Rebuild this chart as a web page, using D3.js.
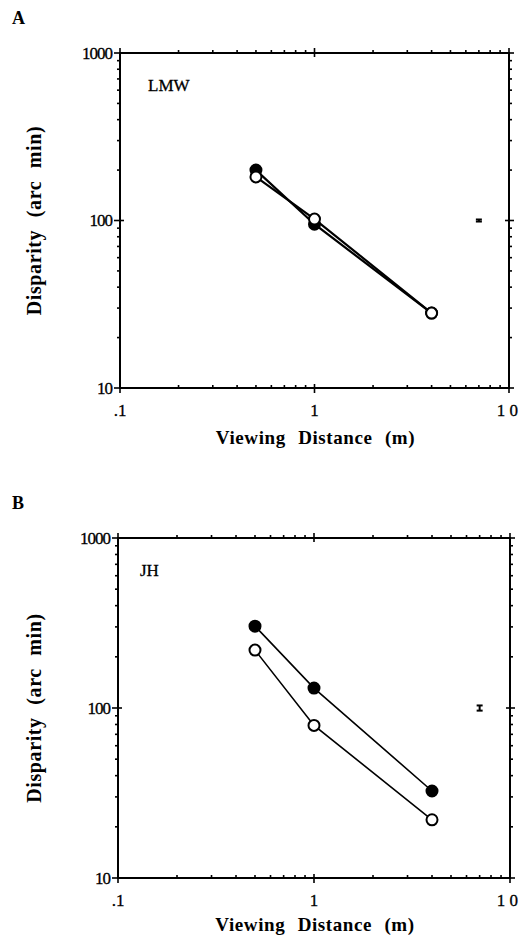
<!DOCTYPE html>
<html>
<head>
<meta charset="utf-8">
<script src="https://cdn.jsdelivr.net/npm/d3@7"></script>
<style>
  body { margin: 0; background: #fff; }
  text { font-family: "Liberation Serif", "DejaVu Serif", serif; fill: #000; }
</style>
</head>
<body>
<svg id="chart"></svg>
<script>
// Data
const distances = [0.5, 1, 4];
const lmwFilled = [200, 95, 28];
const lmwOpen = [182, 102, 28];
const jhFilled = [303, 131, 32.5];
const jhOpen = [219, 79, 22];
// representative error bars (x, value, low, high)
const lmwErr = [7, 100, 98.6, 101.4];
const jhErr = [7, 100, 96.5, 103.5];
const xTicks = [0.1, 1, 10];
const xTickLabels = [".1", "1", "10"];
const yTicks = [10, 100, 1000];

const W = 521, H = 938;
const svg = d3.select('#chart').attr('width', W).attr('height', H);

const panels = [
  { letter: 'A', name: 'LMW', filled: lmwFilled, open: lmwOpen, err: lmwErr,
    left: 120, right: 509, top: 53, bottom: 388, lw: 2.2, nameDx: 28, titleDy: 56 },
  { letter: 'B', name: 'JH', filled: jhFilled, open: jhOpen, err: jhErr,
    left: 118, right: 510, top: 538, bottom: 878, lw: 1.6, nameDx: 22, titleDy: 53 }
];

function minorTicks(lo, hi) {
  let out = [];
  for (let d = lo; d < hi; d *= 10) {
    for (let k = 2; k <= 9; k++) out.push(d * k);
  }
  return out;
}

panels.forEach(p => {
  const g = svg.append('g');
  const x = d3.scaleLog().domain([0.1, 10]).range([p.left, p.right]);
  const y = d3.scaleLog().domain([10, 1000]).range([p.bottom, p.top]);

  // panel letter
  g.append('text')
    .attr('x', 12).attr('y', p.top - 29)
    .style('font-size', '18px').style('font-weight', 'bold')
    .text(p.letter);

  // frame
  g.append('rect')
    .attr('x', p.left).attr('y', p.top)
    .attr('width', p.right - p.left).attr('height', p.bottom - p.top)
    .attr('fill', 'none').attr('stroke', '#000').attr('stroke-width', 2);

  // ticks
  const xMinor = minorTicks(0.1, 10);
  const yMinor = minorTicks(10, 1000);
  const tk = g.append('g').attr('stroke', '#000').attr('stroke-width', 1.6);
  xMinor.forEach(v => {
    tk.append('line').attr('x1', x(v)).attr('x2', x(v)).attr('y1', p.bottom).attr('y2', p.bottom - 3);
    tk.append('line').attr('x1', x(v)).attr('x2', x(v)).attr('y1', p.top).attr('y2', p.top - 3);
  });
  yMinor.forEach(v => {
    tk.append('line').attr('y1', y(v)).attr('y2', y(v)).attr('x1', p.left).attr('x2', p.left - 3);
    tk.append('line').attr('y1', y(v)).attr('y2', y(v)).attr('x1', p.right).attr('x2', p.right + 3);
  });
  xTicks.forEach(v => {
    tk.append('line').attr('x1', x(v)).attr('x2', x(v)).attr('y1', p.bottom - 4).attr('y2', p.bottom + 5);
    tk.append('line').attr('x1', x(v)).attr('x2', x(v)).attr('y1', p.top - 5).attr('y2', p.top + 4);
  });
  yTicks.forEach(v => {
    tk.append('line').attr('y1', y(v)).attr('y2', y(v)).attr('x1', p.left - 6).attr('x2', p.left + 4);
    tk.append('line').attr('y1', y(v)).attr('y2', y(v)).attr('x1', p.right - 4).attr('x2', p.right + 5);
  });

  // tick labels
  yTicks.forEach(v => {
    g.append('text')
      .attr('x', p.left - 8).attr('y', y(v)).attr('dy', '0.35em')
      .attr('text-anchor', 'end')
      .style('font-size', '17px').style('letter-spacing', '-1px')
      .style('stroke', '#000').style('stroke-width', 0.3)
      .text(v);
  });
  xTicks.forEach((v, i) => {
    g.append('text')
      .attr('x', i === 2 ? 518 : x(v))
      .attr('y', p.bottom + 28)
      .attr('text-anchor', i === 2 ? 'end' : 'middle')
      .style('font-size', '17px')
      .style('stroke', '#000').style('stroke-width', 0.3)
      .style('word-spacing', '0px')
      .text(i === 2 ? '1 0' : xTickLabels[i]);
  });

  // axis titles
  g.append('text')
    .attr('x', (p.left + p.right) / 2 + 1).attr('y', p.bottom + p.titleDy)
    .attr('text-anchor', 'middle')
    .style('font-size', '19px').style('font-weight', 'bold')
    .style('letter-spacing', '0.6px').style('word-spacing', '7px')
    .text('Viewing Distance (m)');
  g.append('text')
    .attr('transform', `translate(41,${(p.top + p.bottom) / 2}) rotate(-90)`)
    .attr('text-anchor', 'middle')
    .style('font-size', '20px').style('font-weight', 'bold')
    .style('letter-spacing', '0.6px').style('word-spacing', '7px')
    .text('Disparity (arc min)');

  // subject label
  g.append('text')
    .attr('x', p.left + p.nameDx).attr('y', p.top + 38)
    .style('font-size', '17px')
    .style('stroke', '#000').style('stroke-width', 0.3)
    .text(p.name);

  // series
  const line = d3.line().x((d, i) => x(distances[i])).y(d => y(d));
  [p.filled, p.open].forEach(s => {
    g.append('path').datum(s).attr('d', line)
      .attr('fill', 'none').attr('stroke', '#000').attr('stroke-width', p.lw);
  });
  [[p.filled, '#000'], [p.open, '#fff']].forEach(([s, fill]) => {
    g.selectAll(null).data(s).enter().append('circle')
      .attr('cx', (d, i) => x(distances[i]))
      .attr('cy', d => y(d))
      .attr('r', 5.5)
      .attr('fill', fill).attr('stroke', '#000').attr('stroke-width', 2);
  });

  // error bar
  const [ex, , lo, hi] = p.err;
  const eg = g.append('g').attr('stroke', '#000').attr('stroke-width', 2);
  eg.append('line').attr('x1', x(ex)).attr('x2', x(ex)).attr('y1', y(lo)).attr('y2', y(hi));
  eg.append('line').attr('x1', x(ex) - 3).attr('x2', x(ex) + 3).attr('y1', y(lo)).attr('y2', y(lo));
  eg.append('line').attr('x1', x(ex) - 3).attr('x2', x(ex) + 3).attr('y1', y(hi)).attr('y2', y(hi));
});
</script>
</body>
</html>
